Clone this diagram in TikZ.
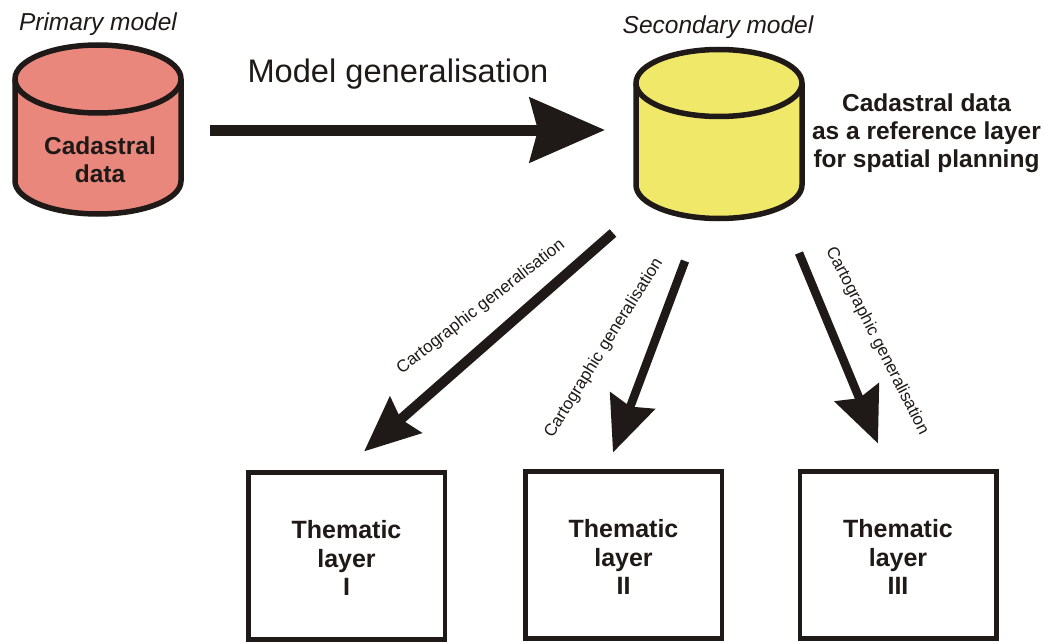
\documentclass[tikz,border=0pt]{standalone}
\usepackage{fontspec}
\setmainfont{Liberation Sans}
\usetikzlibrary{arrows.meta,calc}
\definecolor{ink}{HTML}{1F1A17}
\definecolor{redfill}{HTML}{E9877D}
\definecolor{yelfill}{HTML}{EFE869}
\newcommand{\lift}{\rule{0pt}{22pt}}
\tikzset{
  x=1pt,y=-1pt,
  cylbox/.style={minimum width=#1,inner sep=0pt,outer sep=0pt},
  cylline/.style={draw=ink,line width=5.5pt,line join=round},
  layerbox/.style={draw=ink,line width=4.5pt,fill=white,minimum width=196.5pt,minimum height=167pt,align=center,inner sep=0pt,outer sep=0pt,text=ink,font=\fontsize{25}{28.3}\selectfont\bfseries},
  bigarrow/.style={draw=ink,line width=11pt,-{Stealth[length=75pt,width=64pt,inset=8pt,fill=ink]}},
  thinarrow/.style={draw=ink,line width=#1,-{Stealth[length=55pt,width=47pt,inset=6pt,fill=ink]}},
  lab/.style={text=ink,inner sep=0pt,font=\fontsize{17}{20}\selectfont},
  modellab/.style={text=ink,inner sep=0pt,font=\fontsize{24.5}{28}\selectfont\itshape},
  boldlab/.style={text=ink,inner sep=0pt,align=center,font=\fontsize{24.5}{28}\selectfont\bfseries},
}
\begin{document}
\begin{tikzpicture}
\useasboundingbox (0,0) rectangle (1045,642);
\fill[white] (0,0) rectangle (1045,642);
% primary cylinder
\draw[cylline,fill=redfill]
  (15,79) arc[x radius=83,y radius=34,start angle=180,end angle=360]
  -- (181,181) arc[x radius=83,y radius=33,start angle=0,end angle=180] -- cycle;
\draw[cylline] (15,79) arc[x radius=83,y radius=34,start angle=180,end angle=0];
\node[cylbox=168pt,minimum height=172pt] (prim) at (98,130) {};
\node[boldlab] (primtxt) at (100,159.5) {Cadastral\\data};
\node[modellab] (primlab) at (98,24) {Primary model};
% secondary cylinder
\draw[cylline,fill=yelfill]
  (636,83) arc[x radius=83,y radius=33.5,start angle=180,end angle=360]
  -- (802,185) arc[x radius=83,y radius=33.5,start angle=0,end angle=180] -- cycle;
\draw[cylline] (636,83) arc[x radius=83,y radius=33.5,start angle=180,end angle=0];
\node[cylbox=168pt,minimum height=172pt] (sec) at (719,134) {};
\node[modellab] (seclab) at (718,27) {Secondary model};
\node[boldlab] (sectxt) at (926.5,133) {Cadastral data\\as a reference layer\\for spatial planning};
% boxes
\node[layerbox] (b1) at (346.5,556) {\lift Thematic\\layer\\I};
\node[layerbox] (b2) at (623.5,555) {\lift Thematic\\layer\\II};
\node[layerbox] (b3) at (898,555) {\lift Thematic\\layer\\III};
% arrows
\draw[bigarrow] ([xshift=28pt]prim.east) -- ([xshift=-30pt]sec.west |- prim.east);
\node[text=ink,inner sep=0pt,font=\fontsize{32.6}{38}\selectfont] (mlab) at (398,74) {Model generalisation};
\coordinate (s1) at ([shift={(-106,99)}]sec.center);
\coordinate (e1) at ([shift={(17.5,-21)}]b1.north);
\coordinate (s2) at ([shift={(-34,127)}]sec.center);
\coordinate (e2) at ([shift={(-10.5,-19)}]b2.north);
\coordinate (s3) at ([shift={(80,119)}]sec.center);
\coordinate (e3) at ([shift={(-20,-28)}]b3.north);
\draw[thinarrow=10pt] (s1) -- (e1);
\draw[thinarrow=8.5pt] (s2) -- (e2);
\draw[thinarrow=8.5pt] (s3) -- (e3);
\node[lab,rotate=38] (l1) at (481,307) {Cartographic generalisation};
\node[lab,rotate=58] (l2) at (604,348) {Cartographic generalisation};
\node[lab,rotate=-63] (l3) at (877,341) {Cartographic generalisation};
\end{tikzpicture}
\end{document}
